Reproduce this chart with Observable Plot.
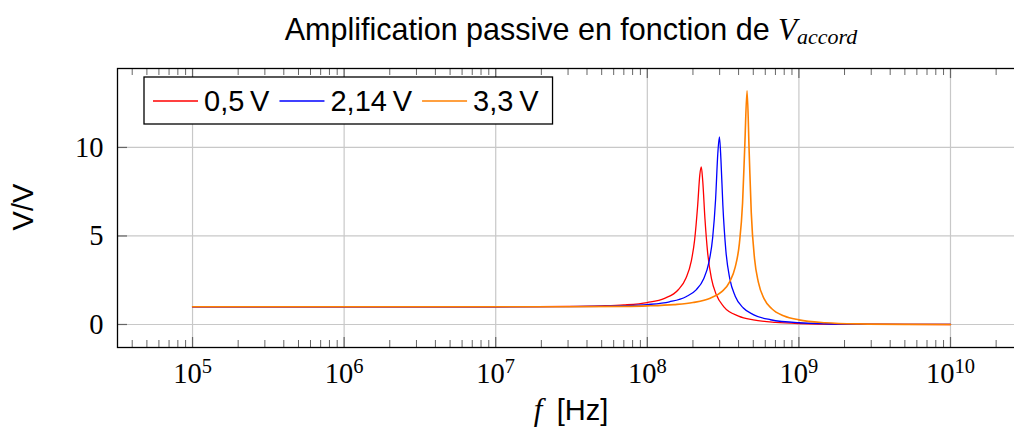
<!DOCTYPE html>
<html><head><meta charset="utf-8">
<script src="https://cdn.jsdelivr.net/npm/d3@7"></script>
<script src="https://cdn.jsdelivr.net/npm/@observablehq/plot@0.6"></script>
<style>
html,body{margin:0;padding:0;overflow:hidden;background:#fff;width:1014px;height:430px}
#chart{position:relative;width:1014px;height:430px;overflow:hidden}
#chart svg{max-width:none !important}
</style></head><body><div id="chart"></div>
<script>
// ---- data ----
const seriesNames = ["0,5 V", "2,14 V", "3,3 V"];
const seriesColors = ["#ff0000", "#0000ff", "#ff8000"];

const freqRed = [1e5, 1e6, 1e7, 3e7, 5e7, 7e7, 1e8, 1.3e8, 1.6e8, 1.8e8, 1.95e8, 2.05e8, 2.15e8, 2.22e8, 2.27e8, 2.32e8, 2.4e8, 2.5e8, 2.65e8, 2.85e8, 3.2e8, 4e8, 5e8, 7e8, 1e9, 2e9, 5e9, 1e10];
const gainRed = [1.0, 1.0, 1.002, 1.018, 1.051, 1.105, 1.241, 1.48, 1.96, 2.62, 3.58, 4.75, 6.75, 8.45, 8.9, 8.12, 5.97, 4.06, 2.59, 1.69, 1.0, 0.475, 0.26, 0.118, 0.054, 0.013, 0.002, 0.0005];

const freqBlue = [1e5, 1e6, 1e7, 3e7, 5e7, 7e7, 1e8, 1.4e8, 1.8e8, 2.1e8, 2.35e8, 2.55e8, 2.7e8, 2.82e8, 2.92e8, 2.99e8, 3.06e8, 3.15e8, 3.3e8, 3.5e8, 3.8e8, 4.3e8, 5e8, 6.5e8, 1e9, 2e9, 5e9, 1e10];
const gainBlue = [1.0, 1.0, 1.001, 1.01, 1.029, 1.058, 1.126, 1.281, 1.568, 1.957, 2.57, 3.52, 4.92, 7.05, 9.7, 10.6, 9.3, 6.75, 4.14, 2.59, 1.6, 0.93, 0.557, 0.268, 0.098, 0.023, 0.0036, 0.0009];

const freqOrange = [1e5, 1e6, 1e7, 3e7, 7e7, 1e8, 1.5e8, 2e8, 2.6e8, 3.1e8, 3.5e8, 3.8e8, 4.05e8, 4.25e8, 4.4e8, 4.55e8, 4.7e8, 4.85e8, 5.1e8, 5.4e8, 5.9e8, 6.6e8, 8e8, 1e9, 1.5e9, 2.5e9, 5e9, 1e10];
const gainOrange = [1.0, 1.0, 1.0, 1.004, 1.024, 1.051, 1.122, 1.239, 1.485, 1.858, 2.42, 3.24, 4.58, 6.86, 10.2, 13.2, 9.7, 6.32, 3.7, 2.39, 1.45, 0.905, 0.478, 0.261, 0.101, 0.034, 0.0084, 0.002];

const xTickExponents = [5, 6, 7, 8, 9, 10];
const yTicks = [0, 5, 10];

// ---- build tables ----
const toRows = (fs, gs, name) => fs.map((f, i) => ({f, g: gs[i], s: name}));
const rowsRed = toRows(freqRed, gainRed, seriesNames[0]);
const rowsBlue = toRows(freqBlue, gainBlue, seriesNames[1]);
const rowsOrange = toRows(freqOrange, gainOrange, seriesNames[2]);

const xTicks = xTickExponents.map(e => Math.pow(10, e));
const xDomain = [Math.pow(10, 4.505), Math.pow(10, 10.442)];
const minorTicks = [];
for (let e = 4; e <= 10; e++) for (let m = 2; m <= 9; m++) {
  const v = m * Math.pow(10, e);
  if (v > xDomain[0] && v < xDomain[1]) minorTicks.push(v);
}

const W = 1020, H = 430, mL = 117, mR = 3, mT = 68, mB = 83;
const frameH = H - mT - mB, frameW = W - mL - mR;
const SANS = "'Liberation Sans', Arial, Helvetica, sans-serif";
const SERIF = "'Liberation Serif', 'Times New Roman', serif";
const gridColor = "#c8c8c8";
const tickColor = "#666";

const chart = Plot.plot({
  width: W, height: H,
  marginLeft: mL, marginRight: mR, marginTop: mT, marginBottom: mB,
  style: {fontFamily: SERIF, fontSize: "28.5px", background: "#fff", color: "#000", maxWidth: "none"},
  x: {type: "log", domain: xDomain},
  y: {domain: [-1.3, 14.46]},
  marks: [
    Plot.gridX(xTicks, {stroke: gridColor, strokeOpacity: 1, strokeWidth: 1.2}),
    Plot.gridY(yTicks, {stroke: gridColor, strokeOpacity: 1, strokeWidth: 1.2}),
    Plot.tickX(minorTicks, {x: d => d, insetTop: frameH - 7, stroke: tickColor, strokeWidth: 1}),
    Plot.tickX(minorTicks, {x: d => d, insetBottom: frameH - 7, stroke: tickColor, strokeWidth: 1}),
    Plot.tickX(xTicks, {x: d => d, insetTop: frameH - 10, stroke: tickColor, strokeWidth: 1.2}),
    Plot.tickX(xTicks, {x: d => d, insetBottom: frameH - 10, stroke: tickColor, strokeWidth: 1.2}),
    Plot.tickY(yTicks, {y: d => d, insetRight: frameW - 10, stroke: tickColor, strokeWidth: 1.2}),
    Plot.axisX(xTicks, {anchor: "bottom", tickSize: 0, tickPadding: 15, label: null,
      tickFormat: d => "10^" + Math.round(Math.log10(d))}),
    Plot.axisY(yTicks, {anchor: "left", tickSize: 0, tickPadding: 14, label: null}),
    Plot.line(rowsRed, {x: "f", y: "g", stroke: seriesColors[0], strokeWidth: 1.3, curve: "monotone-x"}),
    Plot.line(rowsBlue, {x: "f", y: "g", stroke: seriesColors[1], strokeWidth: 1.3, curve: "monotone-x"}),
    Plot.line(rowsOrange, {x: "f", y: "g", stroke: seriesColors[2], strokeWidth: 1.6, curve: "monotone-x"}),
    Plot.frame({stroke: "#000", strokeWidth: 1.3})
  ]
});
chart.style.maxWidth = "none";
document.getElementById("chart").appendChild(chart);

const svg = d3.select(chart);
const ns = "http://www.w3.org/2000/svg";

// superscript tick labels 10^n
svg.selectAll('g[aria-label="x-axis tick label"] text').each(function () {
  const t = this.textContent;
  const parts = t.split("^");
  if (parts.length !== 2) return;
  while (this.firstChild) this.removeChild(this.firstChild);
  const base = document.createElementNS(ns, "tspan");
  base.textContent = parts[0];
  const sup = document.createElementNS(ns, "tspan");
  sup.textContent = parts[1];
  sup.setAttribute("dy", "-10");
  sup.setAttribute("font-size", "20.5px");
  this.appendChild(base);
  this.appendChild(sup);
});

const plotCenter = 571;

// title
const title = svg.append("text").attr("x", plotCenter).attr("y", 40)
  .attr("text-anchor", "middle").attr("fill", "#000");
title.append("tspan").attr("font-family", SANS).attr("font-size", "30.5px").text("Amplification passive en fonction de ");
title.append("tspan").attr("font-family", SERIF).attr("font-style", "italic").attr("font-size", "31px").text("V");
title.append("tspan").attr("font-family", SERIF).attr("font-style", "italic").attr("font-size", "22px").attr("dy", "4").text("accord");

// x label
const xl = svg.append("text").attr("x", plotCenter).attr("y", 420)
  .attr("text-anchor", "middle").attr("fill", "#000");
xl.append("tspan").attr("font-family", SERIF).attr("font-style", "italic").attr("font-size", "31px").text("f");
xl.append("tspan").attr("font-family", SANS).attr("font-size", "29px").text("\u2002[Hz]");

// y label
svg.append("text").attr("transform", "translate(33,207) rotate(-90)")
  .attr("text-anchor", "middle").attr("font-family", SANS).attr("font-size", "29px").attr("fill", "#000").text("V/V");

// legend
const lg = svg.append("g");
const box = lg.append("rect").attr("x", 144).attr("y", 77).attr("height", 47)
  .attr("fill", "#fff").attr("stroke", "#000").attr("stroke-width", 1.3);
let cx = 153;
seriesNames.forEach((name, i) => {
  lg.append("line").attr("x1", cx).attr("x2", cx + 45).attr("y1", 101).attr("y2", 101)
    .attr("stroke", seriesColors[i]).attr("stroke-width", 1.3);
  cx += 51;
  const t = lg.append("text").attr("x", cx).attr("y", 111).attr("text-anchor", "start")
    .attr("font-family", SANS).attr("font-size", "29px").attr("fill", "#000")
    .text(name.replace(" ", "\u2009"));
  cx += t.node().getComputedTextLength() + 10;
});
box.attr("width", cx - 144 + 4);
</script></body></html>
